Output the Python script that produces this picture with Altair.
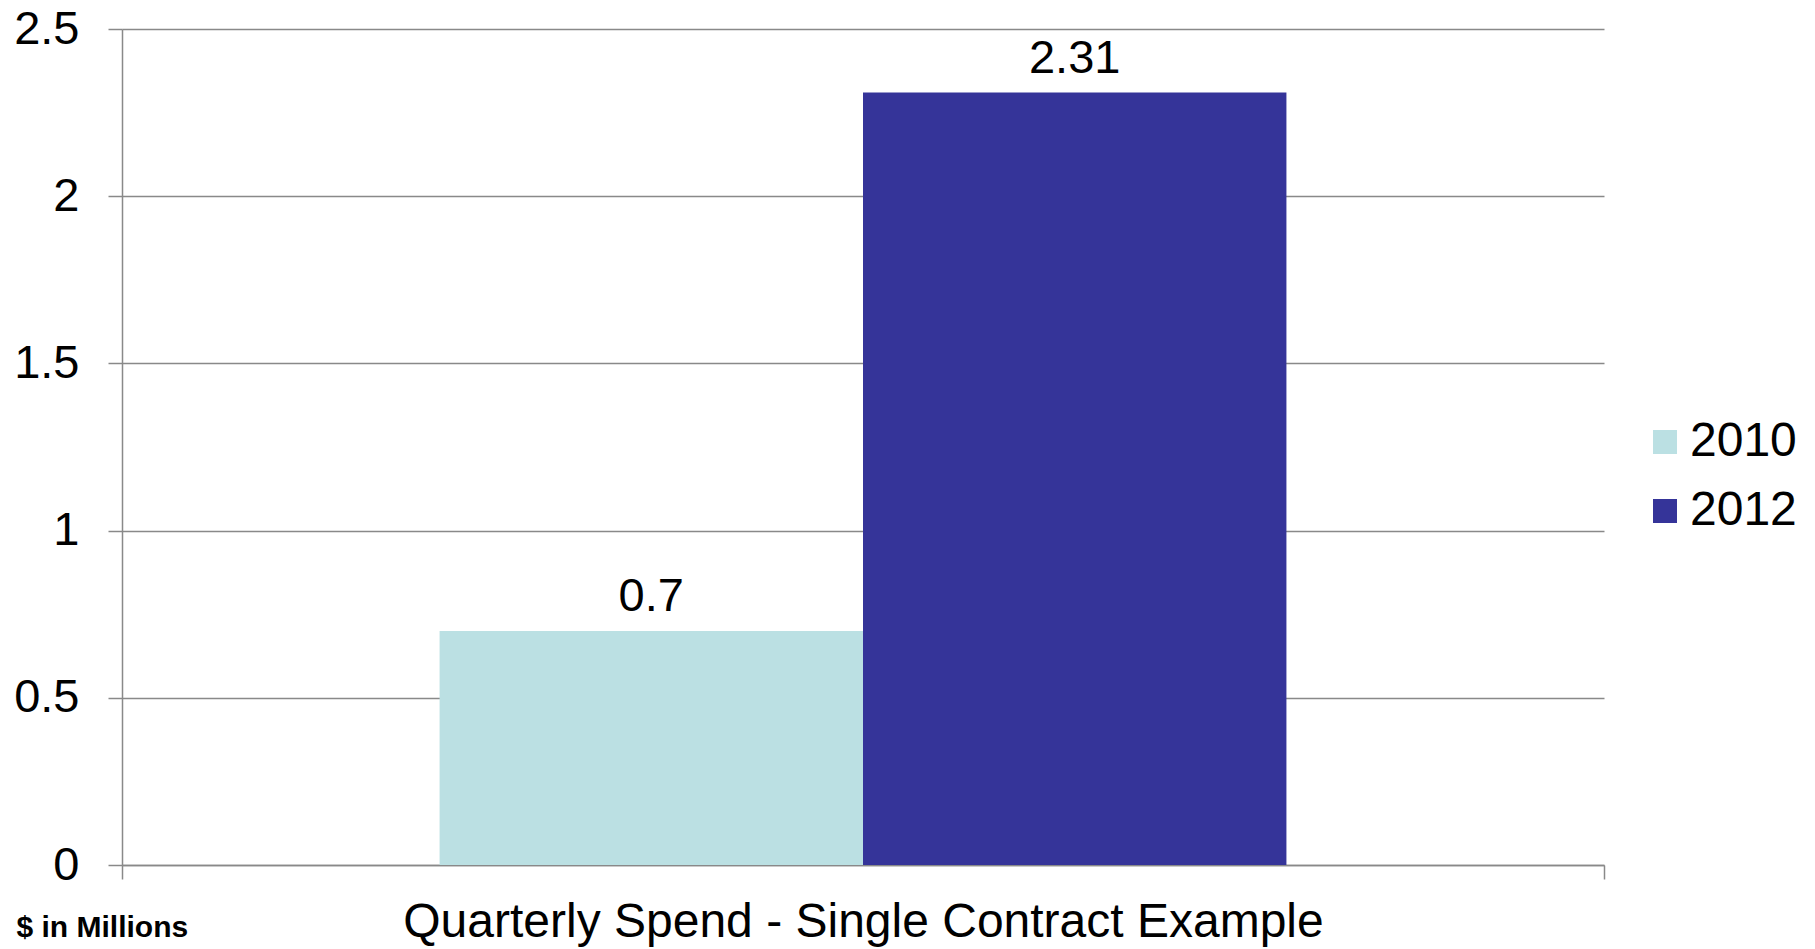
import altair as alt
import pandas as pd

# Quarterly spend for a single contract, in $ millions
category = ["Quarterly Spend - Single Contract Example"]
years = ["2010", "2012"]
spend = [0.7, 2.31]
colors = ["#BBE0E3", "#353499"]

df = pd.DataFrame({
    "category": category * len(years),
    "year": years,
    "spend": spend,
})

FONT = "Liberation Sans"
GRAY = "#898989"

x_enc = alt.X(
    "category:N",
    scale=alt.Scale(paddingInner=0, paddingOuter=0),
    axis=alt.Axis(
        title=None,
        labelFont=FONT,
        labelFontSize=48,
        labelColor="#000000",
        labelAngle=0,
        labelLimit=2000,
        labelPadding=19,
        tickBand="extent",
        tickSize=14,
        tickColor=GRAY,
        tickWidth=1.5,
        domainColor=GRAY,
        domainWidth=1.5,
        grid=False,
    ),
)
xoff_enc = alt.XOffset(
    "year:N", scale=alt.Scale(paddingOuter=0.75, paddingInner=0)
)

bars = alt.Chart(df).mark_bar().encode(
    x=x_enc,
    xOffset=xoff_enc,
    y=alt.Y(
        "spend:Q",
        scale=alt.Scale(domain=[0, 2.5], nice=False),
        axis=alt.Axis(
            values=[0, 0.5, 1, 1.5, 2, 2.5],
            format=".1~f",
            labelFont=FONT,
            labelFontSize=47,
            labelColor="#000000",
            labelPadding=29,
            tickSize=14,
            tickColor=GRAY,
            tickWidth=1.5,
            gridColor=GRAY,
            gridWidth=1.5,
            domainColor=GRAY,
            domainWidth=1.5,
            title="$ in Millions",
            titleFont=FONT,
            titleFontSize=30,
            titleFontWeight="bold",
            titleColor="#000000",
            titleAngle=0,
            titleAlign="left",
            titleBaseline="alphabetic",
            titleX=-106,
            titleY=907,
        ),
    ),
    color=alt.Color(
        "year:N",
        scale=alt.Scale(domain=years, range=colors),
        legend=alt.Legend(
            title=None,
            orient="none",
            legendX=1519,
            legendY=389,
            padding=0,
            symbolType="square",
            symbolSize=576,
            symbolStrokeWidth=0,
            symbolOpacity=1,
            labelFont=FONT,
            labelFontSize=48,
            labelColor="#000000",
            labelOffset=1,
            rowPadding=21,
        ),
    ),
)

labels = alt.Chart(df).mark_text(
    font=FONT, fontSize=47, color="#000000", baseline="alphabetic", dy=-20
).encode(
    x=alt.X("category:N"),
    xOffset=alt.XOffset("year:N"),
    y=alt.Y("spend:Q"),
    text=alt.Text("spend:Q", format="~g"),
)

chart = (
    alt.layer(bars, labels)
    .properties(
        width=1482,
        height=836,
        padding={"left": 122, "top": 29, "right": 211, "bottom": 84},
        autosize=alt.AutoSizeParams(type="none"),
        background="#FFFFFF",
    )
    .configure_view(stroke=None)
)

chart.save("out.html", embed_options={"renderer": "svg", "actions": False})
